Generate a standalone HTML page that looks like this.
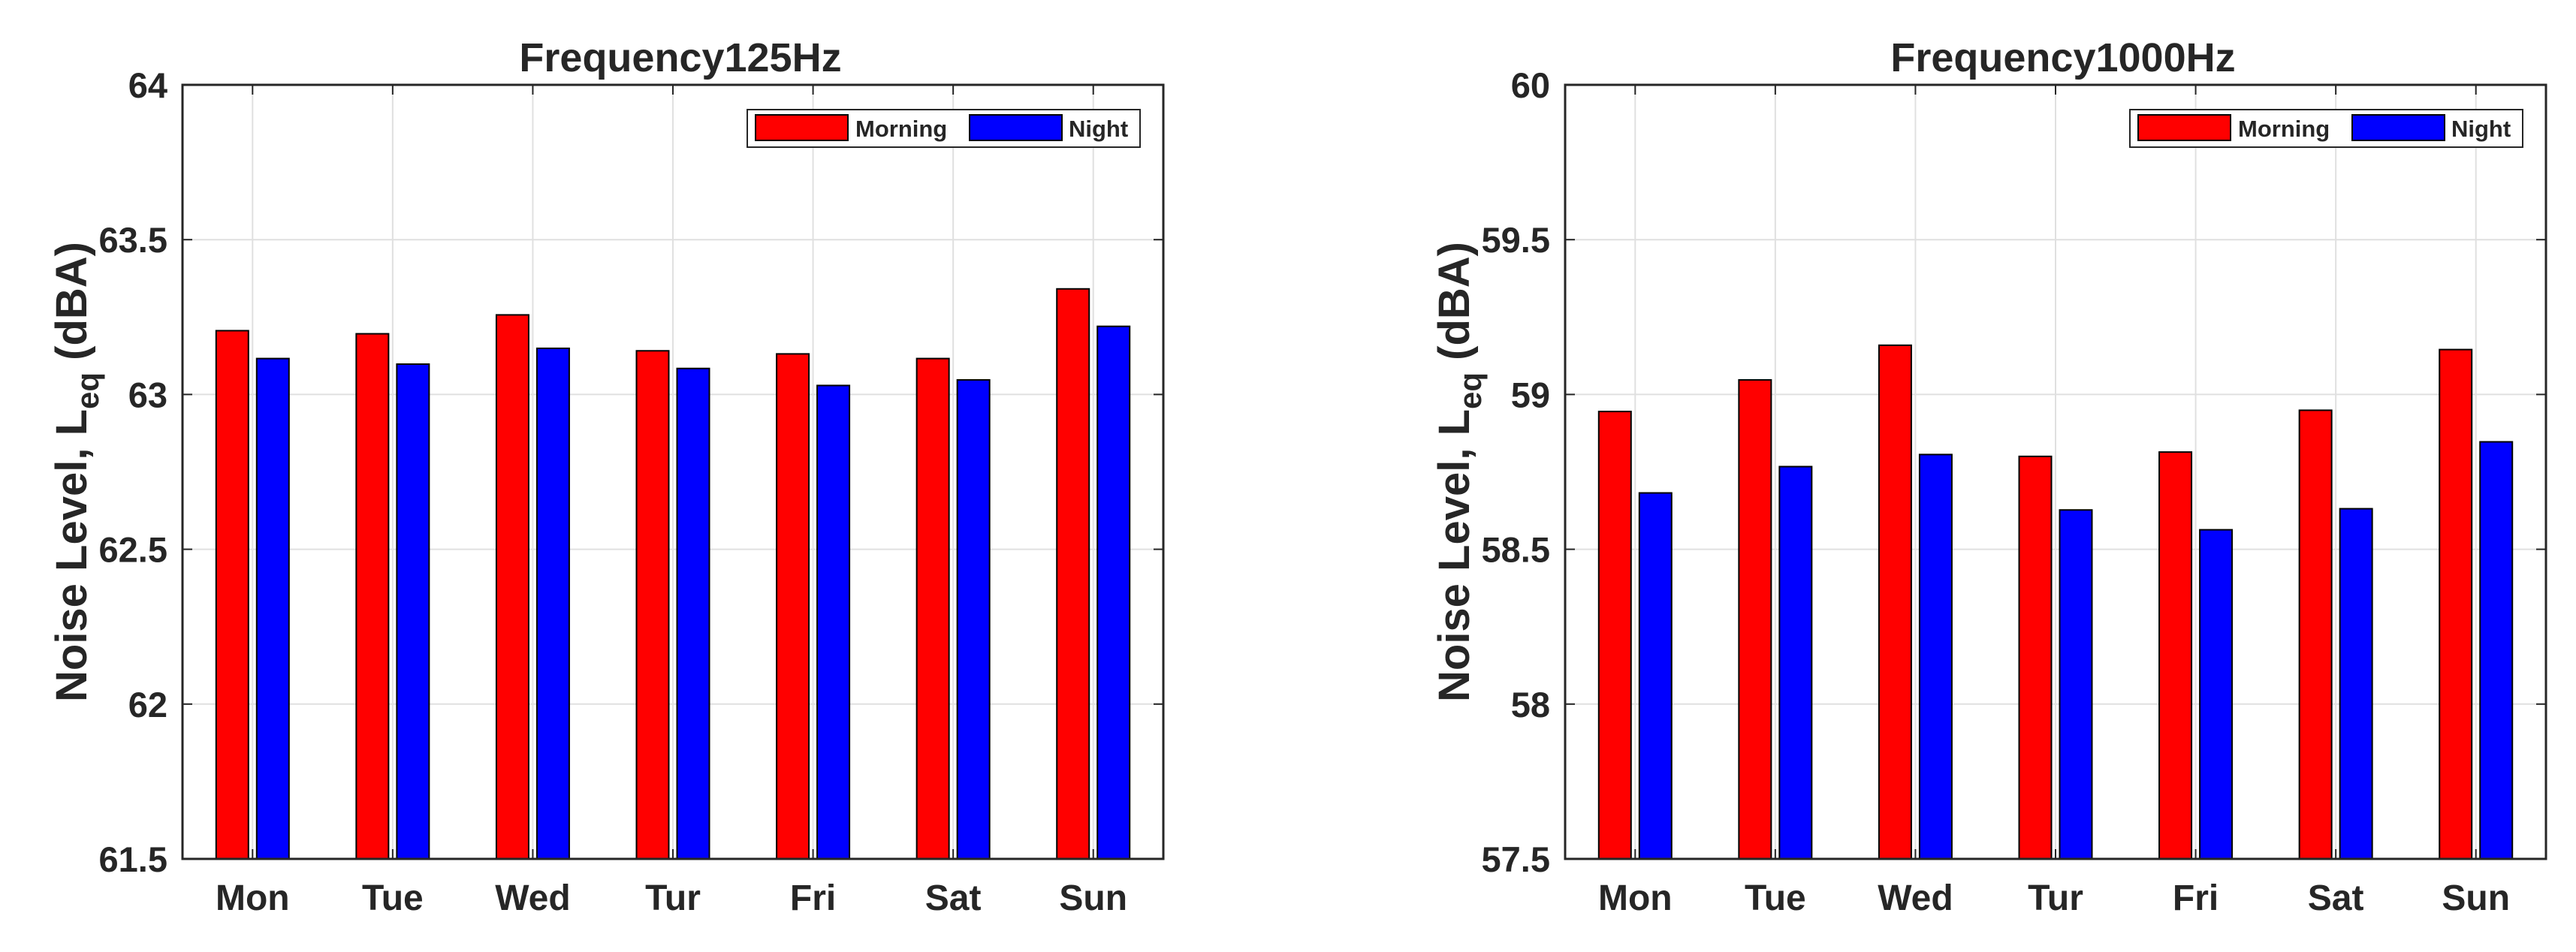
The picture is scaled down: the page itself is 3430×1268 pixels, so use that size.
<!DOCTYPE html>
<html><head><meta charset="utf-8"><style>
html,body{margin:0;padding:0;background:#fff}
svg{display:block}
text{font-family:"Liberation Sans",Arial,sans-serif;font-weight:bold;fill:#262626}
</style></head><body>
<svg id="fig" width="3430" height="1268" viewBox="0 0 3430 1268" xmlns="http://www.w3.org/2000/svg"></svg>
<script>
const categories = ["Mon","Tue","Wed","Tur","Fri","Sat","Sun"];
const morning125 = [63.206,63.196,63.257,63.141,63.131,63.116,63.341];
const night125 = [63.116,63.098,63.149,63.084,63.029,63.047,63.220];
const morning1000 = [58.945,59.047,59.159,58.800,58.814,58.949,59.145];
const night1000 = [58.682,58.767,58.806,58.627,58.563,58.631,58.847];
const yticks125 = [61.5,62,62.5,63,63.5,64];
const yticks1000 = [57.5,58,58.5,59,59.5,60];
const seriesNames = ["Morning","Night"];

const NS = "http://www.w3.org/2000/svg";
const svg = document.getElementById('fig');
function mk(tag, attrs, parent){
  const e = document.createElementNS(NS, tag);
  for (const k in attrs) e.setAttribute(k, attrs[k]);
  (parent||svg).appendChild(e);
  return e;
}
function panel(id, left, title, ticks, mor, nig){
  const top=113, bottom=1144, right=left+1306;
  const g = mk('g',{});
  
  
  const ymin=ticks[0], ymax=ticks[ticks.length-1];
  const y = v => bottom - (v-ymin)/(ymax-ymin)*(bottom-top);
  const n = categories.length;
  const x = i => left + (i+0.5)*(right-left)/n;
  ticks.forEach(t=>{
    if(t===ymin||t===ymax) return;
    const l = mk('line',{x1:left,x2:right,y1:y(t),y2:y(t),stroke:'#e0e0e0','stroke-width':2},g);
    
    
  });
  categories.forEach((c,i)=>{
    const l = mk('line',{x1:x(i),x2:x(i),y1:top,y2:bottom,stroke:'#e0e0e0','stroke-width':2},g);
    
    
  });
  const bw=43;
  categories.forEach((c,i)=>{
    const r = mk('rect',{x:x(i)-27-bw/2,y:y(mor[i]),width:bw,height:bottom-y(mor[i]),fill:'#ff0000',stroke:'#000','stroke-width':2},g);
    
    
    const b = mk('rect',{x:x(i)+27-bw/2,y:y(nig[i]),width:bw,height:bottom-y(nig[i]),fill:'#0000ff',stroke:'#000','stroke-width':2},g);
    
    
  });
  ticks.forEach(t=>{
    mk('line',{x1:left,x2:left+13,y1:y(t),y2:y(t),stroke:'#262626','stroke-width':2},g);
    mk('line',{x1:right,x2:right-13,y1:y(t),y2:y(t),stroke:'#262626','stroke-width':2},g);
    const tl = mk('text',{x:left-20,y:y(t)+17,'text-anchor':'end','font-size':47},g);
    tl.textContent = String(t);
    
    
  });
  categories.forEach((c,i)=>{
    mk('line',{x1:x(i),x2:x(i),y1:bottom,y2:bottom-13,stroke:'#262626','stroke-width':2},g);
    mk('line',{x1:x(i),x2:x(i),y1:top,y2:top+13,stroke:'#262626','stroke-width':2},g);
    const tl = mk('text',{x:x(i),y:1212,'text-anchor':'middle','font-size':48},g);
    tl.textContent = c;
    
    
  });
  const box = mk('rect',{x:left,y:top,width:right-left,height:bottom-top,fill:'none',stroke:'#262626','stroke-width':3},g);
  
  
  const tt = mk('text',{x:(left+right)/2+10,y:95,'text-anchor':'middle','font-size':54,fill:'#000'},g);
  tt.textContent = title;
  
  
  const yl = mk('text',{transform:`translate(${left-128},${(top+bottom)/2}) rotate(-90)`,'text-anchor':'middle','font-size':58},g);
  
  
  const s1 = mk('tspan',{},yl); s1.textContent='Noise Level, L';
  const s2 = mk('tspan',{'font-size':42,dy:16},yl); s2.textContent='eq';
  const s3 = mk('tspan',{dy:-16},yl); s3.textContent=' (dBA)';
  const lx = right-554, ly=146;
  const lg = mk('g',{},g);
  
  
  mk('rect',{x:lx,y:ly,width:523,height:50,fill:'#fff',stroke:'#262626','stroke-width':2},lg);
  const cols=['#ff0000','#0000ff'], offs=[11,296], toffs=[144,428];
  seriesNames.forEach((s,k)=>{
    const p = mk('rect',{x:lx+offs[k],y:ly+7,width:123,height:34,fill:cols[k],stroke:'#000','stroke-width':2},lg);
    
    
    const t = mk('text',{x:lx+toffs[k],y:ly+36,'font-size':31,fill:'#000'},lg);
    t.textContent = s;
    
    
  });
}
panel('freq125', 243, 'Frequency125Hz', yticks125, morning125, night125);
panel('freq1000', 2084, 'Frequency1000Hz', yticks1000, morning1000, night1000);
</script>
</body></html>
